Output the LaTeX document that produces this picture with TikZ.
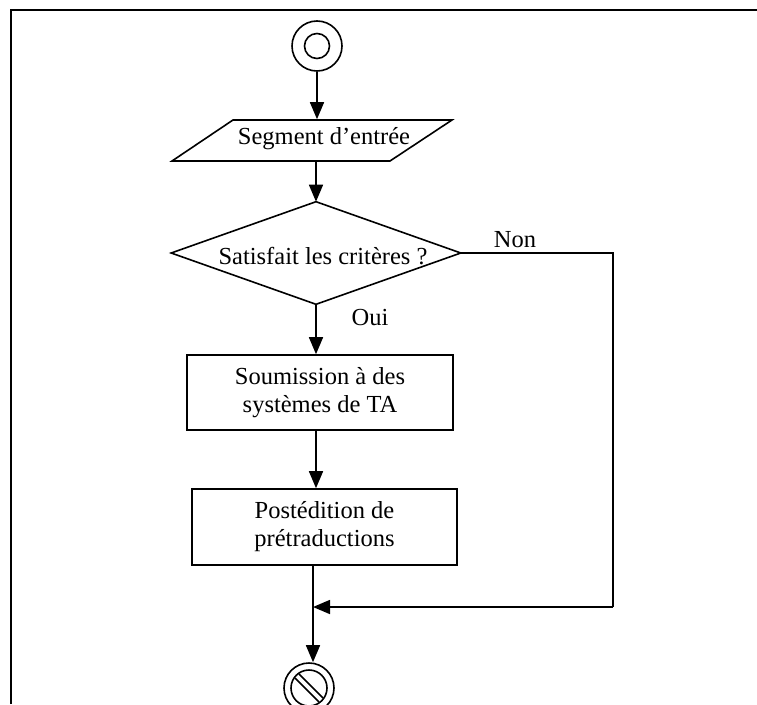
\documentclass[tikz,border=0pt]{standalone}
\usepackage{fontspec}
\setmainfont{Liberation Serif}
\usetikzlibrary{arrows.meta}

\begin{document}
\begin{tikzpicture}[x=1pt, y=-1pt, line width=1.6pt,
  every node/.style={font=\fontsize{24.5}{28}\selectfont, align=center},
  box/.style={draw, inner sep=0pt},
  arr/.style={-{Triangle[length=17pt,width=14pt]}}]
  \useasboundingbox (0,0) rectangle (757,704);
  \clip (0,0) rectangle (757,704);
  \draw[line width=2.5pt] (11,704) -- (11,10) -- (757,10);

  \node[circle, draw, minimum size=50pt, inner sep=0pt] (start) at (317,46) {};
  \draw (start) circle (12.5);

  \node[inner sep=0pt, minimum width=218pt, minimum height=41pt] (seg) at (312,140.5) {};
  \draw (172,161) -- (390,161) -- (452,120) -- (233,120) -- cycle;
  \node at (324,139) {Segment d'entrée};

  \node[inner sep=0pt, minimum width=288pt, minimum height=101pt] (crit) at (316,253) {};
  \draw (crit.west) -- (crit.north) -- (crit.east) -- (crit.south) -- cycle;
  \node at (323,256) {Satisfait les critères ?};
  \node (non) at (515,240) {Non};
  \node (oui) at (370,318) {Oui};

  \node[box, minimum width=266pt, minimum height=75pt] (subm) at (320,392.5) {Soumission à des\\systèmes de TA};
  \node[box, minimum width=265pt, minimum height=76pt] (post) at (324.5,527) {Postédition de\\prétraductions};

  \node[circle, draw, minimum size=50pt, inner sep=0pt] (stop) at (309,688) {};
  \draw (stop) circle (18);
  \draw ([shift={(-14,-10)}]stop.center) -- ([shift={(10,14)}]stop.center);
  \draw ([shift={(-10,-14)}]stop.center) -- ([shift={(14,10)}]stop.center);

  \coordinate (corner) at (613,253);
  \coordinate (join) at (313,607);

  \draw[arr] (start.south) -- (start.south |- seg.north);
  \draw[arr] (crit.north |- seg.south) -- (crit.north);
  \draw[arr] (crit.south) -- (subm.north -| crit.south);
  \draw[arr] (subm.south -| crit.south) -- (post.north -| crit.south);
  \draw[arr] (post.south -| join) -- (stop.north -| join);
  \draw (crit.east) -- (corner) -- (corner |- join);
  \draw[arr] (corner |- join) -- (join);
\end{tikzpicture}
\end{document}
